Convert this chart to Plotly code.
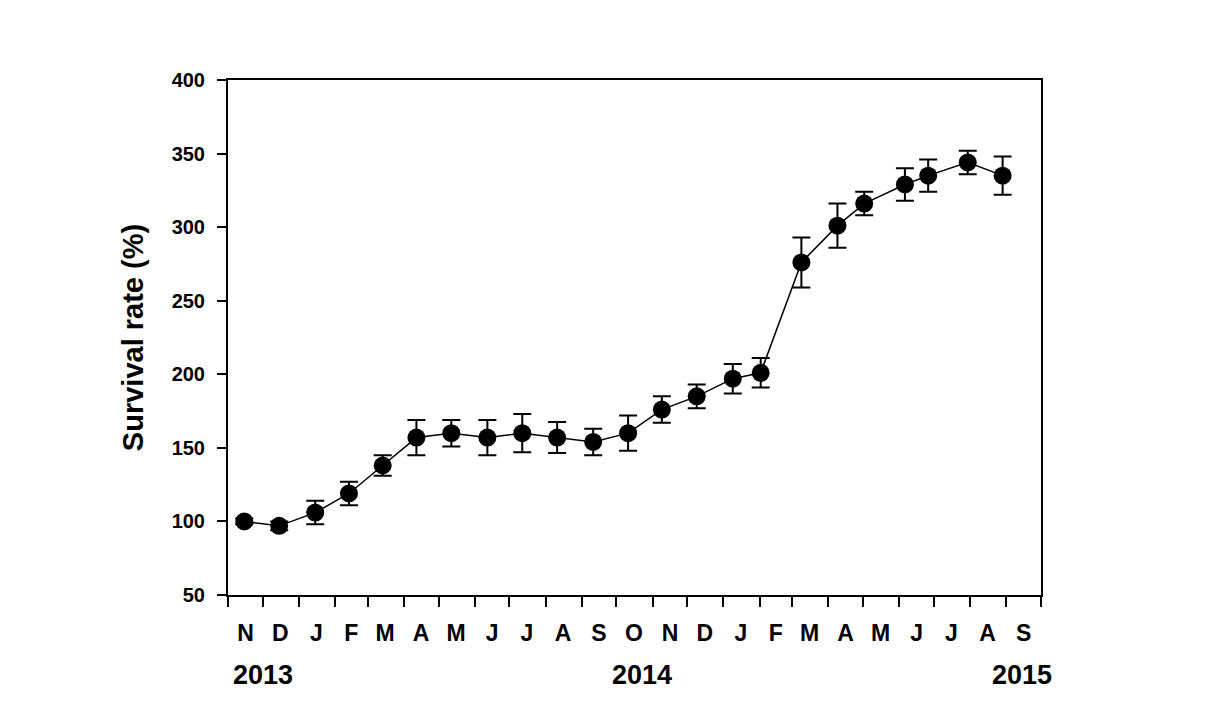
import plotly.graph_objects as go

# Sampling dates and survival rate (%) with error (SE)
dates = ["2013-11-15", "2013-12-15", "2014-01-15", "2014-02-13", "2014-03-14",
         "2014-04-12", "2014-05-12", "2014-06-12", "2014-07-12", "2014-08-11",
         "2014-09-11", "2014-10-11", "2014-11-09", "2014-12-09", "2015-01-09",
         "2015-02-02", "2015-03-09", "2015-04-09", "2015-05-02", "2015-06-06",
         "2015-06-26", "2015-07-30", "2015-08-29"]
survival = [100, 97, 106, 119, 138, 157, 160, 157, 160, 157, 154, 160, 176,
            185, 197, 201, 276, 301, 316, 329, 335, 344, 335]
errors = [2, 3, 8, 8, 7, 12, 9, 12, 13, 10.5, 9, 12, 9, 8, 10, 10, 17, 15,
          8, 11, 11, 8, 13]

month_centers = ["2013-11-16", "2013-12-16", "2014-01-16", "2014-02-15", "2014-03-16",
                 "2014-04-16", "2014-05-16", "2014-06-16", "2014-07-16", "2014-08-16",
                 "2014-09-16", "2014-10-16", "2014-11-16", "2014-12-16", "2015-01-16",
                 "2015-02-15", "2015-03-16", "2015-04-16", "2015-05-16", "2015-06-16",
                 "2015-07-16", "2015-08-16", "2015-09-16"]
month_labels = ["N", "D", "J", "F", "M", "A", "M", "J", "J", "A", "S", "O",
                "N", "D", "J", "F", "M", "A", "M", "J", "J", "A", "S"]
year_labels = ["2013", "2014", "2015"]
year_pos = ["2013-12-01", "2014-10-23", "2015-09-15"]

y_ticks = [50, 100, 150, 200, 250, 300, 350, 400]

BOLD = "Liberation Sans"

fig = go.Figure()
fig.add_trace(go.Scatter(
    x=dates, y=survival, mode="lines+markers",
    line=dict(color="black", width=1.5),
    marker=dict(color="black", size=18, symbol="circle"),
    error_y=dict(type="data", array=errors, visible=True, color="black",
                 thickness=2, width=9),
    showlegend=False,
))

for lab, pos in zip(year_labels, year_pos):
    fig.add_annotation(x=pos, y=-0.155, xref="x", yref="paper", text=lab,
                       showarrow=False, xanchor="center", yanchor="middle",
                       font=dict(family=BOLD, size=27, color="black", weight="bold"))

fig.update_layout(
    width=1230, height=711,
    margin=dict(l=228, r=189, t=80, b=116),
    paper_bgcolor="white", plot_bgcolor="white",
    xaxis=dict(
        type="date",
        range=["2013-11-01", "2015-10-01"],
        tickmode="array", tickvals=month_centers, ticktext=month_labels,
        ticks="outside", ticklen=16, tickcolor="rgba(0,0,0,0)",
        tickfont=dict(family=BOLD, size=23, color="black", weight="bold"),
        showline=True, linecolor="black", linewidth=2, mirror=True,
        showgrid=False, zeroline=False,
        minor=dict(ticks="outside", ticklen=10, tickwidth=2, tickcolor="black",
                   dtick="M1", tick0="2013-11-01", showgrid=False),
    ),
    yaxis=dict(
        range=[50, 400], tickmode="array", tickvals=y_ticks,
        ticks="outside", ticklen=9, tickwidth=2, tickcolor="black",
        ticklabelstandoff=8,
        tickfont=dict(family=BOLD, size=20, color="black", weight="bold"),
        showline=True, linecolor="black", linewidth=2, mirror=True,
        showgrid=False, zeroline=False,
        title=dict(text="Survival rate (%)", standoff=19,
                   font=dict(family=BOLD, size=29, color="black", weight="bold")),
    ),
)

fig.write_html("out.html")
